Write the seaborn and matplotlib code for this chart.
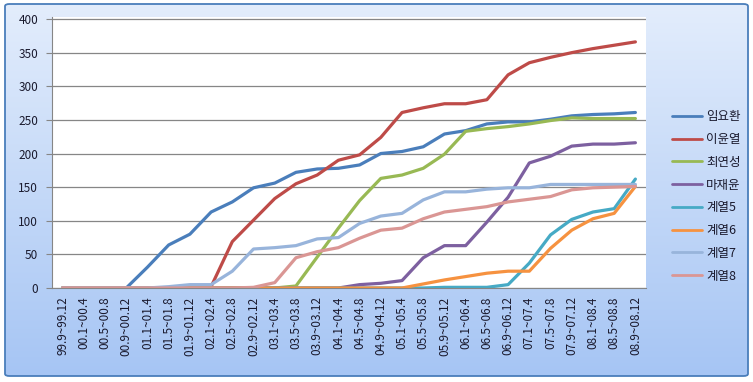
import numpy as np
import pandas as pd
import matplotlib
matplotlib.use("Agg")
import matplotlib.pyplot as plt
import seaborn as sns
from matplotlib.patches import FancyBboxPatch

categories = ["99.9~99.12", "00.1~00.4", "00.5~00.8", "00.9~00.12", "01.1~01.4", "01.5~01.8",
              "01.9~01.12", "02.1~02.4", "02.5~02.8", "02.9~02.12", "03.1~03.4", "03.5~03.8",
              "03.9~03.12", "04.1~04.4", "04.5~04.8", "04.9~04.12", "05.1~05.4", "05.5~05.8",
              "05.9~05.12", "06.1~06.4", "06.5~06.8", "06.9~06.12", "07.1~07.4", "07.5~07.8",
              "07.9~07.12", "08.1~08.4", "08.5~08.8", "08.9~08.12"]

s_lim = [0, 0, 0, 0, 31, 64, 80, 113, 128, 149, 156, 172, 177, 178, 183, 200, 203, 210, 229, 234, 244, 247, 247, 251, 256, 258, 259, 261]
s_lee = [0, 0, 0, 0, 0, 0, 0, 2, 69, 101, 133, 155, 168, 190, 198, 224, 261, 268, 274, 274, 280, 317, 335, 343, 350, 356, 361, 366]
s_choi = [0, 0, 0, 0, 0, 0, 0, 0, 0, 0, 0, 3, 46, 89, 130, 163, 168, 178, 199, 233, 237, 240, 244, 249, 253, 252, 252, 252]
s_ma = [0, 0, 0, 0, 0, 0, 0, 0, 0, 0, 0, 0, 0, 0, 5, 7, 11, 45, 63, 63, 98, 135, 186, 196, 211, 214, 214, 216]
s_5 = [0, 0, 0, 0, 0, 0, 0, 0, 0, 0, 0, 0, 0, 0, 0, 0, 0, 0, 1, 1, 1, 5, 37, 79, 102, 113, 118, 162]
s_6 = [0, 0, 0, 0, 0, 0, 0, 0, 0, 0, 0, 0, 0, 0, 0, 0, 0, 6, 12, 17, 22, 25, 25, 59, 86, 103, 111, 151]
s_7 = [0, 0, 0, 0, 0, 2, 5, 5, 25, 58, 60, 63, 73, 75, 96, 107, 111, 131, 143, 143, 147, 149, 149, 154, 154, 154, 154, 154]
s_8 = [0, 0, 0, 0, 0, 0, 0, 0, 0, 1, 8, 45, 54, 60, 74, 86, 89, 103, 113, 117, 121, 128, 132, 136, 146, 149, 150, 151]

series_names = ["임요환", "이윤열", "최연성", "마재윤", "계열5", "계열6", "계열7", "계열8"]
series_values = [s_lim, s_lee, s_choi, s_ma, s_5, s_6, s_7, s_8]
colors = ["#4A7EBB", "#BE4B48", "#98B954", "#7D60A0", "#46AAC5", "#F69240", "#98B4DB", "#DA9694"]
yticks = [0, 50, 100, 150, 200, 250, 300, 350, 400]

rows = []
for name, vals in zip(series_names, series_values):
    for i, v in enumerate(vals):
        rows.append({"idx": i, "value": v, "series": name})
df = pd.DataFrame(rows)

sns.set_style("white")
plt.rcParams['font.family'] = ['Noto Sans CJK KR', 'DejaVu Sans']

W, H = 753, 382
fig = plt.figure(figsize=(W / 100, H / 100), dpi=100, facecolor="white")

# gradient chart-area background inside the border
L, T, R, B = 5, 4, 748, 376
bg = fig.add_axes([L / W, 1 - B / H, (R - L) / W, (B - T) / H], zorder=-10)
grad = np.linspace(0, 1, 256).reshape(-1, 1)
top = np.array([0xE3, 0xED, 0xFC]) / 255
bot = np.array([0xA6, 0xC5, 0xF4]) / 255
img = top[None, None, :] * (1 - grad[:, :, None]) + bot[None, None, :] * grad[:, :, None]
bg.imshow(img, aspect='auto', extent=[0, 1, 0, 1])
bg.set_xlim(0, 1)
bg.set_ylim(0, 1)
bg.set_axis_off()
border = FancyBboxPatch((0, 0), 1, 1, boxstyle="round,pad=0,rounding_size=0.006",
                        transform=bg.transAxes, fill=False, edgecolor="#4A7EBB",
                        linewidth=1.3, clip_on=False)
bg.add_patch(border)

ax = fig.add_axes([52 / W, 1 - 288 / H, (646 - 52) / W, (288 - 17) / H])
ax.set_facecolor("white")

sns.lineplot(data=df, x="idx", y="value", hue="series", hue_order=series_names,
             palette=colors, linewidth=2.3, ax=ax, legend=False)

ax.set_xlim(-0.5, len(categories) - 0.5)
ax.set_ylim(0, 403)
ax.set_yticks(yticks)
ax.set_yticklabels([str(t) for t in yticks], fontsize=8.5, color="#1A1A2E")
ax.set_xticks(range(len(categories)))
ax.set_xticklabels(categories, rotation=90, fontsize=8.5, color="#1A1A2E")
ax.set_xticks(np.arange(-0.5, len(categories), 1), minor=True)
ax.tick_params(axis='x', which='major', length=0, pad=6)
ax.tick_params(axis='x', which='minor', length=4, color="#868686", width=0.8, direction='out')
ax.tick_params(axis='y', length=4, color="#868686", width=0.8, direction='out', left=True, pad=6)
ax.yaxis.grid(True, color="#868686", linewidth=0.9)
ax.xaxis.grid(False)
ax.set_axisbelow(True)
for sp in ["top", "right"]:
    ax.spines[sp].set_visible(False)
ax.spines["left"].set_color("#868686")
ax.spines["bottom"].set_color("#868686")
ax.set_xlabel("")
ax.set_ylabel("")

handles = [plt.Line2D([], [], color=c, linewidth=2) for c in colors]
leg = fig.legend(handles, series_names, loc="upper left", bbox_to_anchor=(661 / W, 1 - 99 / H),
                 frameon=False, fontsize=9, handlelength=2.4, labelspacing=0.78, handletextpad=0.3)
for t in leg.get_texts():
    t.set_color("#1A1A2E")

fig.savefig("out.png", dpi=100, facecolor="white")
